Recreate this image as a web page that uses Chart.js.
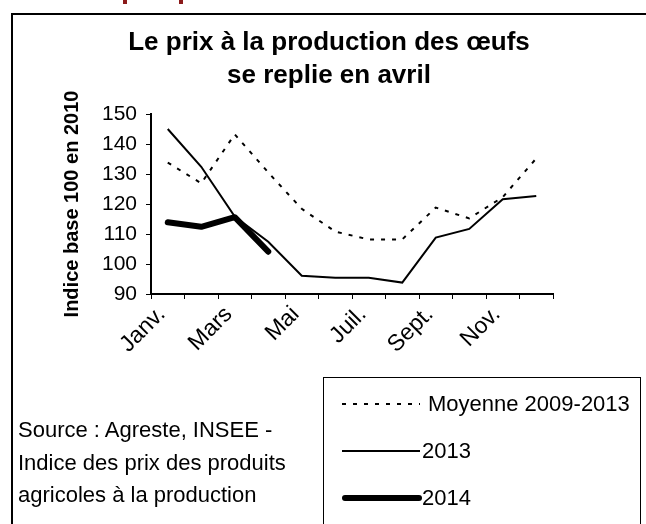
<!DOCTYPE html>
<html lang="fr"><head><meta charset="utf-8">
<script src="https://cdn.jsdelivr.net/npm/chart.js@4.4.1/dist/chart.umd.min.js"></script>
<style>
html,body{margin:0;padding:0;background:#fff;}
#wrap{position:relative;width:646px;height:524px;overflow:hidden;font-family:"Liberation Sans",Arial,sans-serif;color:#000;background:#fff;}
#c{position:absolute;left:0;top:0;}
#frame{position:absolute;left:11px;top:13px;width:700px;height:600px;border-left:2px solid #000;border-top:2px solid #000;}
.mark{position:absolute;top:0;width:4px;height:4px;background:#8b1a1a;}
#title{position:absolute;left:12px;width:634px;top:25px;text-align:center;font-weight:bold;font-size:26px;line-height:33px;white-space:nowrap;}
#source{position:absolute;left:18px;top:414px;font-size:22px;line-height:32.5px;white-space:nowrap;}
#legend{position:absolute;left:323px;top:377px;width:316px;height:200px;border:1px solid #000;}
.row{position:absolute;left:18px;height:30px;display:flex;align-items:center;font-size:22px;white-space:nowrap;}
.row svg{display:block;}
</style>
</head><body>
<div id="wrap">
  <div class="mark" style="left:123px"></div>
  <div class="mark" style="left:179px"></div>
  <div id="frame"></div>
  <canvas id="c" width="646" height="524"></canvas>
  <div id="title"></div>
  <div id="source"></div>
  <div id="legend"></div>
</div>
<script>
// ---- data ----
const months = ['Janv.','Févr.','Mars','Avr.','Mai','Juin','Juil.','Août','Sept.','Oct.','Nov.','Déc.'];
const tickLabels = ['Janv.','','Mars','','Mai','','Juil.','','Sept.','','Nov.',''];
const seriesNames = ['Moyenne 2009-2013','2013','2014'];
const moyenne = [133.8,126.9,143.2,130.5,118.4,110.8,108.2,108.2,118.8,115.2,122.3,135.2];
const v2013 = [145.0,132.4,115.8,107.4,96.1,95.4,95.4,93.8,108.8,111.7,121.6,122.7];
const v2014 = [113.9,112.4,115.6,104.1,null,null,null,null,null,null,null,null];
const yTicks = [90,100,110,120,130,140,150];
const titleLines = ['Le prix à la production des œufs','se replie en avril'];
const yAxisTitle = 'Indice base 100 en 2010';
const sourceLines = ['Source : Agreste, INSEE -','Indice des prix des produits','agricoles à la production'];

// ---- text blocks ----
document.getElementById('title').innerHTML = titleLines.map(t => '<div>' + t + '</div>').join('');
document.getElementById('source').innerHTML = sourceLines.map(t => '<div>' + t + '</div>').join('');

const FAM = '"Liberation Sans", Arial, sans-serif';
Chart.defaults.font.family = FAM;
Chart.defaults.color = '#000';

const chart = new Chart(document.getElementById('c'), {
  type: 'line',
  data: {
    labels: months,
    datasets: [
      {label: seriesNames[0], data: moyenne, borderColor:'#000', borderWidth:2, borderDash:[4,7], pointRadius:0, tension:0, order:3},
      {label: seriesNames[1], data: v2013, borderColor:'#000', borderWidth:2, pointRadius:0, tension:0, order:2},
      {label: seriesNames[2], data: v2014, borderColor:'#000', borderWidth:6, borderCapStyle:'round', borderJoinStyle:'round', pointRadius:0, tension:0, spanGaps:false, order:1}
    ]
  },
  options: {
    responsive:false, devicePixelRatio:1, animation:false,
    layout:{padding:{top:114, left:0, right:93, bottom:150}},
    plugins:{legend:{display:false}, tooltip:{enabled:false}, title:{display:false}},
    scales:{
      x:{
        type:'category', offset:true,
        grid:{display:true, drawOnChartArea:false, drawTicks:true, tickLength:5, color:'#000', offset:true, lineWidth:1},
        border:{display:true, color:'#000', width:2},
        ticks:{autoSkip:false, minRotation:45, maxRotation:45, padding:2, labelOffset:-6, color:'#000', font:{size:23, family:FAM}, callback:(v,i) => tickLabels[i]},
        afterFit: s => { s.height = 80; }
      },
      y:{
        min:90, max:150,
        afterBuildTicks: s => { s.ticks = yTicks.map(v => ({value:v})); },
        grid:{display:true, drawOnChartArea:false, drawTicks:true, tickLength:5, color:'#000', lineWidth:1},
        border:{display:true, color:'#000', width:2},
        ticks:{padding:9, color:'#000', font:{size:21, family:FAM}},
        title:{display:true, text:yAxisTitle, color:'#000', font:{size:20, weight:'bold', family:FAM}, padding:{top:60, bottom:0}},
        afterFit: s => { s.width = 151; }
      }
    }
  }
});

// ---- legend built from the datasets ----
const legend = document.getElementById('legend');
const rowTops = [11, 58, 105];
chart.data.datasets.forEach((ds, i) => {
  const row = document.createElement('div');
  row.className = 'row';
  row.style.top = rowTops[i] + 'px';
  const dash = ds.borderDash ? ds.borderDash.join(' ') : 'none';
  const cap = ds.borderCapStyle === 'round' ? 'round' : 'butt';
  row.innerHTML = '<svg width="80" height="12"><line x1="' + (cap==='round'?3:0) + '" y1="6" x2="' + (cap==='round'?77:78) + '" y2="6" stroke="#000" stroke-width="' + ds.borderWidth + '" stroke-dasharray="' + dash + '" stroke-linecap="' + cap + '"/></svg>' +
    '<span style="margin-left:' + (i===0?6:0) + 'px">' + ds.label + '</span>';
  legend.appendChild(row);
});
</script>
</body></html>
